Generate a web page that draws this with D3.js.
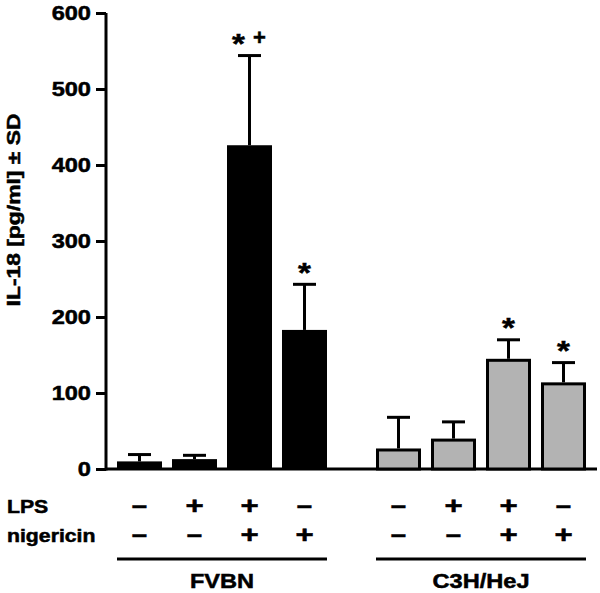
<!DOCTYPE html>
<html>
<head>
<meta charset="utf-8">
<script src="https://cdn.jsdelivr.net/npm/d3@7"></script>
<style>
  html, body { margin: 0; padding: 0; background: #fff; }
  svg { display: block; }
  text { font-family: "Liberation Sans", Arial, Helvetica, sans-serif; font-weight: bold; fill: #000;
         stroke: #000; stroke-width: 0.5px; }
</style>
</head>
<body>
<svg id="chart" width="600" height="593"></svg>
<script>
// ---- data ----
const strains = ["FVBN", "C3H/HeJ"];
const conditions = ["ctrl", "LPS", "LPS+nig", "nig"];
const lpsSigns = ["–", "+", "+", "–"];
const nigericinSigns = ["–", "–", "+", "+"];
const fvbnMeans = [10, 13, 426, 183];
const fvbnSD = [9, 5, 118, 60];
const c3hMeans = [27, 40, 145, 114];
const c3hSD = [41, 22, 25, 26];
const fvbnMarks = ["", "", "*+", "*"];
const c3hMarks = ["", "", "*", "*"];
const yTicks = [0, 100, 200, 300, 400, 500, 600];
const yTitle = "IL-18 [pg/ml] ± SD";
const rowLabels = ["LPS", "nigericin"];

const groups = [
  { strain: strains[0], means: fvbnMeans, sd: fvbnSD, marks: fvbnMarks, fill: "#000", stroke: "none" },
  { strain: strains[1], means: c3hMeans, sd: c3hSD, marks: c3hMarks, fill: "#b3b3b3", stroke: "#000" }
];

// ---- layout ----
const svg = d3.select("#chart");
const FONT_SX = 1.18;

const y = d3.scaleLinear().domain([0, 600]).range([469, 13]);
const xOuter = d3.scaleBand().domain(strains).range([112, 591]).paddingInner(0.1506).paddingOuter(0);
const xInner = d3.scaleBand().domain(conditions).range([0, xOuter.bandwidth()])
  .paddingInner(10 / 55).paddingOuter(5 / 55);

function txt(parent, str, x, yy, size, anchor, sx) {
  return parent.append("text")
    .attr("transform", `translate(${x},${yy}) scale(${sx === undefined ? FONT_SX : sx},1)`)
    .attr("font-size", size)
    .attr("text-anchor", anchor || "middle")
    .text(str);
}

// ---- y axis ----
const yAxis = d3.axisLeft(y).tickValues(yTicks).tickSize(10).tickSizeOuter(0).tickFormat("");
const gy = svg.append("g").attr("transform", "translate(106,0)").call(yAxis);
gy.selectAll("path, line").attr("stroke", "#000").attr("stroke-width", 3);
gy.select("path.domain").attr("d", `M0,${y(0) + 1.5}V${y(600)}`);
yTicks.forEach(t => {
  txt(svg, String(t), 91, y(t) + 7, 20, "end");
});

// y title
svg.append("text")
  .attr("transform", `translate(20,210) rotate(-90) scale(1.27,1)`)
  .attr("font-size", 18)
  .attr("text-anchor", "middle")
  .text(yTitle);

// x baseline
svg.append("line")
  .attr("x1", 106).attr("x2", 597)
  .attr("y1", y(0)).attr("y2", y(0))
  .attr("stroke", "#000").attr("stroke-width", 3);

// ---- bars ----
groups.forEach(gd => {
  const g = svg.append("g").attr("transform", `translate(${xOuter(gd.strain)},0)`);
  const bw = xInner.bandwidth();
  const capW = 23;
  conditions.forEach((c, i) => {
    const x0 = xInner(c);
    const cx = x0 + bw / 2;
    const v = gd.means[i];
    const top = y(v);
    const capY = y(v + gd.sd[i]);
    // error bar
    g.append("line").attr("x1", cx).attr("x2", cx).attr("y1", top).attr("y2", capY)
      .attr("stroke", "#000").attr("stroke-width", 3);
    g.append("line").attr("x1", cx - capW / 2).attr("x2", cx + capW / 2).attr("y1", capY).attr("y2", capY)
      .attr("stroke", "#000").attr("stroke-width", 3);
    // bar
    if (gd.stroke === "none") {
      g.append("rect").attr("x", x0).attr("y", top).attr("width", bw).attr("height", y(0) - top)
        .attr("fill", gd.fill);
    } else {
      g.append("rect").attr("x", x0 + 1.5).attr("y", top + 1.5).attr("width", bw - 3)
        .attr("height", Math.max(0, y(0) - top - 1.5))
        .attr("fill", gd.fill).attr("stroke", gd.stroke).attr("stroke-width", 3);
    }
    // significance marks
    const mark = gd.marks[i];
    const mcy = capY - 18;
    if (mark === "*") {
      txt(g, "*", cx, mcy + 0.55 * 28, 28, "middle");
    } else if (mark === "*+") {
      txt(g, "*", cx - 11, mcy + 0.55 * 28, 28, "middle");
      txt(g, "+", cx + 10, mcy + 0.35 * 22, 22, "middle", 1.0);
    }
    // sign rows
    [lpsSigns[i], nigericinSigns[i]].forEach((s, r) => {
      const cy = r === 0 ? 506 : 535;
      const plus = s === "+";
      const off = plus ? 0.35 : 0.28;
      txt(g, s, cx, cy + off * 24, 24, "middle", plus ? 1.3 : 1.15);
    });
  });
  // underline
  const xl = xInner(conditions[0]);
  const xr = xInner(conditions[conditions.length - 1]) + bw;
  g.append("line").attr("x1", xl).attr("x2", xr).attr("y1", 559).attr("y2", 559)
    .attr("stroke", "#000").attr("stroke-width", 3);
  txt(g, gd.strain, (xl + xr) / 2, 588, 20, "middle");
});

// row labels
txt(svg, rowLabels[0], 7, 513, 18, "start");
txt(svg, rowLabels[1], 7, 542, 18, "start");
</script>
</body>
</html>
